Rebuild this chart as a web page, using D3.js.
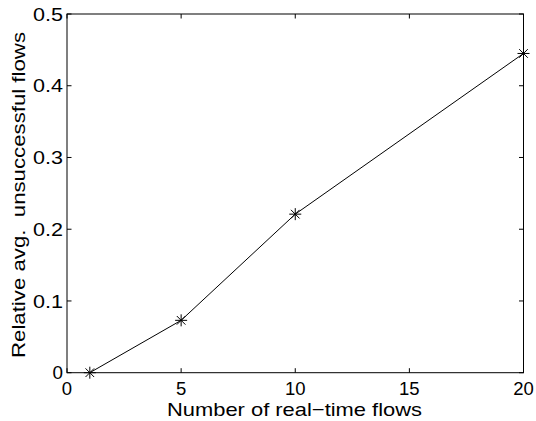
<!DOCTYPE html>
<html>
<head>
<meta charset="utf-8">
<script src="https://cdn.jsdelivr.net/npm/d3@7"></script>
<style>
  body { margin: 0; background: #fff; }
  svg { display: block; font-family: "Liberation Sans", Arial, Helvetica, sans-serif; }
  .tick-label { font-size: 18.5px; fill: #000; }
  .axis-title { font-size: 18.5px; fill: #000; white-space: pre; }
</style>
</head>
<body>
<script>
// Data
var flows = [1, 5, 10, 20];
var unsuccessful = [0, 0.073, 0.221, 0.445];
var xTicks = [0, 5, 10, 15, 20];
var yTicks = [0, 0.1, 0.2, 0.3, 0.4, 0.5];

var W = 536, H = 421;
var m = { left: 67, right: 523.5, top: 14, bottom: 372.7 };
var tickLen = 4.5;

var svg = d3.select('body').append('svg').attr('width', W).attr('height', H);

var x = d3.scaleLinear().domain([0, 20]).range([m.left, m.right]);
var y = d3.scaleLinear().domain([0, 0.5]).range([m.bottom, m.top]);

// Box
svg.append('rect')
  .attr('x', m.left).attr('y', m.top)
  .attr('width', m.right - m.left).attr('height', m.bottom - m.top)
  .attr('fill', 'none').attr('stroke', '#000').attr('stroke-width', 1);

// Ticks (inward, mirrored on top / right)
var g = svg.append('g').attr('stroke', '#000').attr('stroke-width', 1);
xTicks.forEach(function (t) {
  var px = x(t);
  g.append('line').attr('x1', px).attr('x2', px).attr('y1', m.bottom).attr('y2', m.bottom - tickLen);
  g.append('line').attr('x1', px).attr('x2', px).attr('y1', m.top).attr('y2', m.top + tickLen);
});
yTicks.forEach(function (t) {
  var py = y(t);
  g.append('line').attr('x1', m.left).attr('x2', m.left + tickLen).attr('y1', py).attr('y2', py);
  g.append('line').attr('x1', m.right).attr('x2', m.right - tickLen).attr('y1', py).attr('y2', py);
});

// Tick labels
svg.selectAll('.xl').data(xTicks).join('text')
  .attr('class', 'tick-label')
  .attr('x', function (d) { return x(d); })
  .attr('y', m.bottom + 22.5)
  .attr('text-anchor', 'middle')
  .text(function (d) { return d; });

// y labels: MATLAB's decimals come out wider, so stretch "0.x" a little
svg.selectAll('.yl').data(yTicks).join('text')
  .attr('class', 'tick-label')
  .attr('x', function (d) { return d === 0 ? m.left - 4 - 10.5 : m.left - 4 - 30; })
  .attr('y', function (d) { return y(d) + 6.6; })
  .attr('textLength', function (d) { return d === 0 ? 10.5 : 30; })
  .attr('lengthAdjust', 'spacingAndGlyphs')
  .text(function (d) { return d === 0 ? '0' : d3.format('.1f')(d); });

// Axis titles (MATLAB export is a bit wider than Arial, so stretch to measured width)
svg.append('text').attr('class', 'axis-title')
  .attr('x', 167).attr('y', 415.5)
  .attr('textLength', 255).attr('lengthAdjust', 'spacingAndGlyphs')
  .text('Number of real\u2212time flows');

svg.append('text').attr('class', 'axis-title')
  .attr('transform', 'translate(25,358) rotate(-90)')
  .attr('textLength', 326).attr('lengthAdjust', 'spacingAndGlyphs')
  .text('Relative avg.  unsuccessful flows');

// Line
var pts = flows.map(function (f, i) { return [f, unsuccessful[i]]; });
var line = d3.line().x(function (d) { return x(d[0]); }).y(function (d) { return y(d[1]); });
svg.append('path').datum(pts)
  .attr('d', line)
  .attr('fill', 'none').attr('stroke', '#000').attr('stroke-width', 1);

// Asterisk markers
var r = 6, rd = r * 0.72;
var star = 'M' + (-r) + ',0L' + r + ',0M0,' + (-r) + 'L0,' + r +
  'M' + (-rd) + ',' + (-rd) + 'L' + rd + ',' + rd +
  'M' + (-rd) + ',' + rd + 'L' + rd + ',' + (-rd);
svg.selectAll('.mk').data(pts).join('path')
  .attr('transform', function (d) { return 'translate(' + x(d[0]) + ',' + y(d[1]) + ')'; })
  .attr('d', star)
  .attr('fill', 'none').attr('stroke', '#000').attr('stroke-width', 1);
</script>
</body>
</html>
